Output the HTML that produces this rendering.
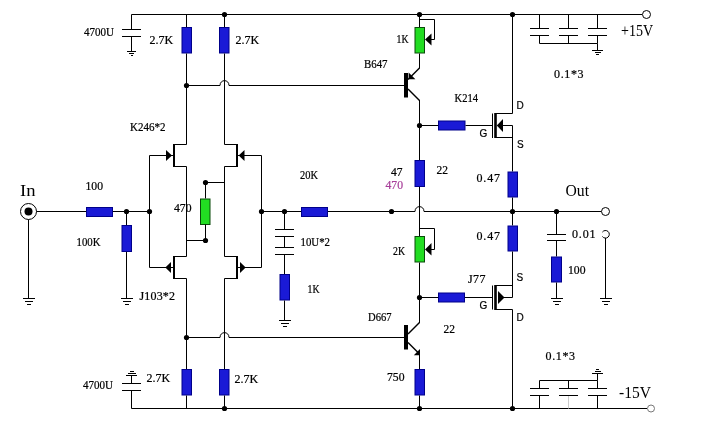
<!DOCTYPE html>
<html><head><meta charset="utf-8"><title>Schematic</title>
<style>
html,body{margin:0;padding:0;background:#fff;}
svg{display:block;will-change:transform}
.s{font-family:"Liberation Serif",serif;stroke-width:0.22px;}
.a{font-family:"Liberation Sans",sans-serif;stroke-width:0.2px;}
</style></head><body>
<svg width="705" height="439" viewBox="0 0 705 439">
<rect width="705" height="439" fill="#fff"/>
<path d="M131.5 14.5 L642 14.5" stroke="#000" stroke-width="1" fill="none"/>
<path d="M131.5 408.5 L647 408.5" stroke="#000" stroke-width="1" fill="none"/>
<path d="M131.5 14.5 L131.5 29.5" stroke="#000" stroke-width="1" fill="none"/>
<path d="M122 29.5 L141 29.5" stroke="#000" stroke-width="1" fill="none"/>
<path d="M122 36.5 L141 36.5" stroke="#000" stroke-width="1" fill="none"/>
<path d="M131.5 36.5 L131.5 51.5" stroke="#000" stroke-width="1" fill="none"/>
<path d="M127 51.5 L136 51.5" stroke="#000" stroke-width="1" fill="none"/>
<path d="M129 53.5 L134 53.5" stroke="#000" stroke-width="1" fill="none"/>
<path d="M131 55.5 L133 55.5" stroke="#000" stroke-width="1" fill="none"/>
<path d="M131.5 408.5 L131.5 390.5" stroke="#000" stroke-width="1" fill="none"/>
<path d="M122 390.5 L141 390.5" stroke="#000" stroke-width="1" fill="none"/>
<path d="M122 383.5 L141 383.5" stroke="#000" stroke-width="1" fill="none"/>
<path d="M131.5 383.5 L131.5 375.5" stroke="#000" stroke-width="1" fill="none"/>
<path d="M126 375.5 L137 375.5" stroke="#000" stroke-width="1" fill="none"/>
<path d="M128 373.5 L136 373.5" stroke="#000" stroke-width="1" fill="none"/>
<path d="M130 371.5 L134 371.5" stroke="#000" stroke-width="1" fill="none"/>
<path d="M186.5 14.5 L186.5 27" stroke="#000" stroke-width="1" fill="none"/>
<rect x="182" y="27.5" width="9.5" height="25.5" fill="#1a1ad6" stroke="#00008a" stroke-width="1"/>
<path d="M186.5 53.5 L186.5 144.5" stroke="#000" stroke-width="1" fill="none"/>
<path d="M224.5 14.5 L224.5 27" stroke="#000" stroke-width="1" fill="none"/>
<rect x="219.5" y="27.5" width="9.5" height="25.5" fill="#1a1ad6" stroke="#00008a" stroke-width="1"/>
<path d="M224.5 53.5 L224.5 144.5" stroke="#000" stroke-width="1" fill="none"/>
<circle cx="224.5" cy="14.5" r="2.6" fill="#000"/>
<circle cx="186.5" cy="85.5" r="2.6" fill="#000"/>
<path d="M186.5 85.5 L220 85.5 C220 79 229 79 229 85.5 L404 85.5" stroke="#000" stroke-width="1" fill="none"/>
<path d="M186.5 278.5 L186.5 369" stroke="#000" stroke-width="1" fill="none"/>
<rect x="182" y="369.5" width="9.5" height="25.5" fill="#1a1ad6" stroke="#00008a" stroke-width="1"/>
<path d="M186.5 395.5 L186.5 408.5" stroke="#000" stroke-width="1" fill="none"/>
<path d="M224.5 278.5 L224.5 369" stroke="#000" stroke-width="1" fill="none"/>
<rect x="219.5" y="369.5" width="9.5" height="25.5" fill="#1a1ad6" stroke="#00008a" stroke-width="1"/>
<path d="M224.5 395.5 L224.5 408.5" stroke="#000" stroke-width="1" fill="none"/>
<circle cx="224.5" cy="408.5" r="2.6" fill="#000"/>
<circle cx="186.5" cy="337.5" r="2.6" fill="#000"/>
<path d="M186.5 337.5 L220 337.5 C220 331 229 331 229 337.5 L404 337.5" stroke="#000" stroke-width="1" fill="none"/>
<path d="M186.5 144.5 L174 144.5" stroke="#000" stroke-width="1" fill="none"/>
<path d="M174 144 L174 167" stroke="#000" stroke-width="2" fill="none"/>
<path d="M174 166.5 L186.5 166.5" stroke="#000" stroke-width="1" fill="none"/>
<path d="M186.5 166.5 L186.5 256.5" stroke="#000" stroke-width="1" fill="none"/>
<polygon points="166,150 166,161 172,155.5" fill="#000"/>
<path d="M149.5 155.5 L173.5 155.5" stroke="#000" stroke-width="1" fill="none"/>
<path d="M186.5 256.5 L174 256.5" stroke="#000" stroke-width="1" fill="none"/>
<path d="M174 256 L174 279" stroke="#000" stroke-width="2" fill="none"/>
<path d="M174 278.5 L186.5 278.5" stroke="#000" stroke-width="1" fill="none"/>
<polygon points="171,262 171,273 165.3,267.5" fill="#000"/>
<path d="M149.5 267.5 L173.5 267.5" stroke="#000" stroke-width="1" fill="none"/>
<path d="M149.5 155.5 L149.5 267.5" stroke="#000" stroke-width="1" fill="none"/>
<path d="M224.5 144.5 L237 144.5" stroke="#000" stroke-width="1" fill="none"/>
<path d="M237 144 L237 167" stroke="#000" stroke-width="2" fill="none"/>
<path d="M237 166.5 L224.5 166.5" stroke="#000" stroke-width="1" fill="none"/>
<path d="M224.5 166.5 L224.5 256.5" stroke="#000" stroke-width="1" fill="none"/>
<polygon points="244.5,150 244.5,161 238.7,155.5" fill="#000"/>
<path d="M237.5 155.5 L261.5 155.5" stroke="#000" stroke-width="1" fill="none"/>
<path d="M224.5 256.5 L237 256.5" stroke="#000" stroke-width="1" fill="none"/>
<path d="M237 256 L237 279" stroke="#000" stroke-width="2" fill="none"/>
<path d="M237 278.5 L224.5 278.5" stroke="#000" stroke-width="1" fill="none"/>
<polygon points="240,262 240,273 245.7,267.5" fill="#000"/>
<path d="M237.5 267.5 L261.5 267.5" stroke="#000" stroke-width="1" fill="none"/>
<path d="M261.5 155.5 L261.5 267.5" stroke="#000" stroke-width="1" fill="none"/>
<path d="M224.5 182.5 L205.5 182.5" stroke="#000" stroke-width="1" fill="none"/>
<circle cx="205.5" cy="182.5" r="2.6" fill="#000"/>
<path d="M205.5 182.5 L205.5 198.5" stroke="#000" stroke-width="1" fill="none"/>
<rect x="200.5" y="199" width="9.5" height="25.5" fill="#22dd22" stroke="#0a4a0a" stroke-width="1"/>
<path d="M205.5 224.5 L205.5 240.5" stroke="#000" stroke-width="1" fill="none"/>
<circle cx="205.5" cy="240.5" r="2.6" fill="#000"/>
<path d="M205.5 240.5 L186.5 240.5" stroke="#000" stroke-width="1" fill="none"/>
<circle cx="28.5" cy="211.5" r="8" fill="#fff" stroke="#000" stroke-width="1"/>
<circle cx="28.5" cy="211.5" r="4" fill="#000"/>
<path d="M36.5 211.5 L86 211.5" stroke="#000" stroke-width="1" fill="none"/>
<rect x="86.5" y="207.5" width="26" height="9" fill="#1a1ad6" stroke="#00008a" stroke-width="1"/>
<path d="M113 211.5 L149.5 211.5" stroke="#000" stroke-width="1" fill="none"/>
<circle cx="126.5" cy="211.5" r="2.6" fill="#000"/>
<circle cx="149.5" cy="211.5" r="2.6" fill="#000"/>
<path d="M28.5 219.5 L28.5 298.5" stroke="#000" stroke-width="1" fill="none"/>
<path d="M23 298.5 L35 298.5" stroke="#000" stroke-width="1" fill="none"/>
<path d="M25 301.5 L33 301.5" stroke="#000" stroke-width="1" fill="none"/>
<path d="M27 304.5 L31 304.5" stroke="#000" stroke-width="1" fill="none"/>
<path d="M126.5 211.5 L126.5 225" stroke="#000" stroke-width="1" fill="none"/>
<rect x="122" y="225.5" width="9.5" height="26" fill="#1a1ad6" stroke="#00008a" stroke-width="1"/>
<path d="M126.5 252 L126.5 298.5" stroke="#000" stroke-width="1" fill="none"/>
<path d="M121 298.5 L133 298.5" stroke="#000" stroke-width="1" fill="none"/>
<path d="M123 301.5 L131 301.5" stroke="#000" stroke-width="1" fill="none"/>
<path d="M125 304.5 L129 304.5" stroke="#000" stroke-width="1" fill="none"/>
<circle cx="261.5" cy="211.5" r="2.6" fill="#000"/>
<circle cx="284.5" cy="211.5" r="2.6" fill="#000"/>
<path d="M261.5 211.5 L301 211.5" stroke="#000" stroke-width="1" fill="none"/>
<rect x="301.5" y="207.5" width="26" height="9" fill="#1a1ad6" stroke="#00008a" stroke-width="1"/>
<path d="M328 211.5 L415 211.5 C415 205 424 205 424 211.5 L601.5 211.5" stroke="#000" stroke-width="1" fill="none"/>
<circle cx="391.5" cy="211.5" r="2.6" fill="#000"/>
<circle cx="512.5" cy="211.5" r="2.6" fill="#000"/>
<circle cx="556.5" cy="211.5" r="2.6" fill="#000"/>
<circle cx="605.5" cy="211.5" r="4" fill="#fff" stroke="#000" stroke-width="1"/>
<path d="M284.5 211.5 L284.5 229.5" stroke="#000" stroke-width="1" fill="none"/>
<path d="M275 229.5 L294 229.5" stroke="#000" stroke-width="1" fill="none"/>
<path d="M275 236.5 L294 236.5" stroke="#000" stroke-width="1" fill="none"/>
<path d="M284.5 236.5 L284.5 247.5" stroke="#000" stroke-width="1" fill="none"/>
<path d="M275 247.5 L294 247.5" stroke="#000" stroke-width="1" fill="none"/>
<path d="M275 254.5 L294 254.5" stroke="#000" stroke-width="1" fill="none"/>
<path d="M284.5 254.5 L284.5 274" stroke="#000" stroke-width="1" fill="none"/>
<rect x="280" y="274.5" width="9.5" height="25.5" fill="#1a1ad6" stroke="#00008a" stroke-width="1"/>
<path d="M284.5 300.5 L284.5 320.5" stroke="#000" stroke-width="1" fill="none"/>
<path d="M279 320.5 L291 320.5" stroke="#000" stroke-width="1" fill="none"/>
<path d="M281 323.5 L289 323.5" stroke="#000" stroke-width="1" fill="none"/>
<path d="M283 326.5 L287 326.5" stroke="#000" stroke-width="1" fill="none"/>
<circle cx="419.5" cy="14.5" r="2.6" fill="#000"/>
<path d="M419.5 14.5 L419.5 27" stroke="#000" stroke-width="1" fill="none"/>
<rect x="415" y="27.5" width="9.5" height="25.5" fill="#22dd22" stroke="#0a4a0a" stroke-width="1"/>
<path d="M419.5 19.5 L434.5 19.5 L434.5 39.5 L431 39.5" stroke="#000" stroke-width="1" fill="none"/>
<polygon points="431.5,33.5 431.5,45.5 425,39.5" fill="#000"/>
<path d="M419.5 53.5 L419.5 68.5" stroke="#000" stroke-width="1" fill="none"/>
<path d="M419.5 68 L408 79.5" stroke="#000" stroke-width="1.4" fill="none"/>
<polygon points="408.6,72.5 408.6,79.3 415.4,79.3" fill="#000"/>
<rect x="404" y="73" width="4" height="24.5" fill="#000"/>
<path d="M408 89 L419.5 100.5" stroke="#000" stroke-width="1.4" fill="none"/>
<path d="M419.5 100 L419.5 160" stroke="#000" stroke-width="1" fill="none"/>
<circle cx="419.5" cy="125.5" r="2.6" fill="#000"/>
<path d="M419.5 125.5 L438 125.5" stroke="#000" stroke-width="1" fill="none"/>
<rect x="438.5" y="121" width="26.5" height="9" fill="#1a1ad6" stroke="#00008a" stroke-width="1"/>
<path d="M465.5 125.5 L492.5 125.5" stroke="#000" stroke-width="1" fill="none"/>
<path d="M492.5 113.5 L492.5 138" stroke="#000" stroke-width="1" fill="none"/>
<rect x="494.2" y="113" width="2.6" height="25" fill="#000"/>
<path d="M496 113.5 L512.5 113.5 L512.5 14.5" stroke="#000" stroke-width="1" fill="none"/>
<circle cx="512.5" cy="14.5" r="2.6" fill="#000"/>
<path d="M496 137.5 L512.5 137.5" stroke="#000" stroke-width="1" fill="none"/>
<polygon points="503,119 503,132 496.8,125.5" fill="#000"/>
<path d="M503 125.5 L512.5 125.5 L512.5 171.5" stroke="#000" stroke-width="1" fill="none"/>
<rect x="508" y="172" width="9.5" height="25" fill="#1a1ad6" stroke="#00008a" stroke-width="1"/>
<path d="M512.5 197.5 L512.5 225.5" stroke="#000" stroke-width="1" fill="none"/>
<rect x="508" y="226" width="9.5" height="25" fill="#1a1ad6" stroke="#00008a" stroke-width="1"/>
<path d="M512.5 251.5 L512.5 297.5 L504 297.5" stroke="#000" stroke-width="1" fill="none"/>
<rect x="415" y="160.5" width="9.5" height="26" fill="#1a1ad6" stroke="#00008a" stroke-width="1"/>
<path d="M419.5 187 L419.5 236" stroke="#000" stroke-width="1" fill="none"/>
<rect x="415" y="236.5" width="9.5" height="25.5" fill="#22dd22" stroke="#0a4a0a" stroke-width="1"/>
<path d="M419.5 228.5 L434.5 228.5 L434.5 249.5 L431 249.5" stroke="#000" stroke-width="1" fill="none"/>
<polygon points="431.5,243 431.5,255.5 425,249.5" fill="#000"/>
<path d="M419.5 262.5 L419.5 323" stroke="#000" stroke-width="1" fill="none"/>
<path d="M419.5 322.5 L408 334" stroke="#000" stroke-width="1.4" fill="none"/>
<circle cx="419.5" cy="297.5" r="2.6" fill="#000"/>
<path d="M419.5 297.5 L438 297.5" stroke="#000" stroke-width="1" fill="none"/>
<rect x="438.5" y="293" width="26" height="9" fill="#1a1ad6" stroke="#00008a" stroke-width="1"/>
<path d="M465 297.5 L492.5 297.5" stroke="#000" stroke-width="1" fill="none"/>
<path d="M492.5 285.5 L492.5 309.5" stroke="#000" stroke-width="1" fill="none"/>
<rect x="494.2" y="285" width="2.6" height="25" fill="#000"/>
<path d="M496 285.5 L512.5 285.5" stroke="#000" stroke-width="1" fill="none"/>
<polygon points="498,291 498,304 504.5,297.5" fill="#000"/>
<path d="M496 309.5 L512.5 309.5 L512.5 408.5" stroke="#000" stroke-width="1" fill="none"/>
<circle cx="512.5" cy="408.5" r="2.6" fill="#000"/>
<rect x="404" y="325" width="4" height="24.5" fill="#000"/>
<path d="M408 342.5 L419.5 354" stroke="#000" stroke-width="1.4" fill="none"/>
<path d="M419.5 354 L419.5 369" stroke="#000" stroke-width="1" fill="none"/>
<polygon points="420,349 420,355.2 413.8,355.2" fill="#000"/>
<rect x="415" y="369.5" width="9.5" height="25.5" fill="#1a1ad6" stroke="#00008a" stroke-width="1"/>
<path d="M419.5 395.5 L419.5 408.5" stroke="#000" stroke-width="1" fill="none"/>
<circle cx="419.5" cy="408.5" r="2.6" fill="#000"/>
<path d="M539.5 14.5 L539.5 28.5" stroke="#000" stroke-width="1" fill="none"/>
<path d="M530 28.5 L549 28.5" stroke="#000" stroke-width="1" fill="none"/>
<path d="M530 35.5 L549 35.5" stroke="#000" stroke-width="1" fill="none"/>
<path d="M539.5 35.5 L539.5 43.5" stroke="#000" stroke-width="1" fill="none"/>
<path d="M568.5 14.5 L568.5 28.5" stroke="#000" stroke-width="1" fill="none"/>
<path d="M559 28.5 L578 28.5" stroke="#000" stroke-width="1" fill="none"/>
<path d="M559 35.5 L578 35.5" stroke="#000" stroke-width="1" fill="none"/>
<path d="M568.5 35.5 L568.5 43.5" stroke="#000" stroke-width="1" fill="none"/>
<path d="M597.5 14.5 L597.5 28.5" stroke="#000" stroke-width="1" fill="none"/>
<path d="M588 28.5 L607 28.5" stroke="#000" stroke-width="1" fill="none"/>
<path d="M588 35.5 L607 35.5" stroke="#000" stroke-width="1" fill="none"/>
<path d="M597.5 35.5 L597.5 43.5" stroke="#000" stroke-width="1" fill="none"/>
<path d="M539.5 43.5 L597.5 43.5" stroke="#000" stroke-width="1" fill="none"/>
<path d="M597.5 43.5 L597.5 50.5" stroke="#000" stroke-width="1" fill="none"/>
<path d="M592 50.5 L603 50.5" stroke="#000" stroke-width="1" fill="none"/>
<path d="M595 52.5 L601 52.5" stroke="#000" stroke-width="1" fill="none"/>
<path d="M596 54.5 L599 54.5" stroke="#000" stroke-width="1" fill="none"/>
<circle cx="646.5" cy="14.5" r="4" fill="#fff" stroke="#000" stroke-width="1"/>
<path d="M539.5 408.5 L539.5 395.5" stroke="#000" stroke-width="1" fill="none"/>
<path d="M530 395.5 L549 395.5" stroke="#000" stroke-width="1" fill="none"/>
<path d="M530 388.5 L549 388.5" stroke="#000" stroke-width="1" fill="none"/>
<path d="M539.5 388.5 L539.5 380.5" stroke="#000" stroke-width="1" fill="none"/>
<path d="M568.5 408.5 L568.5 395.5" stroke="#ccc" stroke-width="1" fill="none"/>
<path d="M559 395.5 L578 395.5" stroke="#000" stroke-width="1" fill="none"/>
<path d="M559 388.5 L578 388.5" stroke="#000" stroke-width="1" fill="none"/>
<path d="M568.5 388.5 L568.5 380.5" stroke="#000" stroke-width="1" fill="none"/>
<path d="M597.5 408.5 L597.5 395.5" stroke="#000" stroke-width="1" fill="none"/>
<path d="M588 395.5 L607 395.5" stroke="#000" stroke-width="1" fill="none"/>
<path d="M588 388.5 L607 388.5" stroke="#000" stroke-width="1" fill="none"/>
<path d="M597.5 388.5 L597.5 380.5" stroke="#000" stroke-width="1" fill="none"/>
<path d="M539.5 380.5 L597.5 380.5" stroke="#000" stroke-width="1" fill="none"/>
<path d="M597.5 380.5 L597.5 373.5" stroke="#000" stroke-width="1" fill="none"/>
<path d="M592 373.5 L603 373.5" stroke="#000" stroke-width="1" fill="none"/>
<path d="M595 371.5 L601 371.5" stroke="#000" stroke-width="1" fill="none"/>
<path d="M596 369.5 L599 369.5" stroke="#000" stroke-width="1" fill="none"/>
<circle cx="651" cy="408.5" r="3.5" fill="#fff" stroke="#777" stroke-width="1"/>
<path d="M556.5 211.5 L556.5 234.5" stroke="#000" stroke-width="1" fill="none"/>
<path d="M547 234.5 L566 234.5" stroke="#000" stroke-width="1" fill="none"/>
<path d="M547 240.5 L566 240.5" stroke="#000" stroke-width="1" fill="none"/>
<path d="M556.5 240.5 L556.5 256.5" stroke="#000" stroke-width="1" fill="none"/>
<rect x="551.5" y="257" width="10" height="25" fill="#1a1ad6" stroke="#00008a" stroke-width="1"/>
<path d="M556.5 282.5 L556.5 298.5" stroke="#000" stroke-width="1" fill="none"/>
<path d="M551 298.5 L563 298.5" stroke="#000" stroke-width="1" fill="none"/>
<path d="M553 301.5 L561 301.5" stroke="#000" stroke-width="1" fill="none"/>
<path d="M555 304.5 L559 304.5" stroke="#000" stroke-width="1" fill="none"/>
<path d="M602.39 232.12 A3.8 3.8 0 1 1 602.39 236.48" stroke="#000" stroke-width="1" fill="none"/>
<path d="M605.5 238 L605.5 298.5" stroke="#000" stroke-width="1" fill="none"/>
<path d="M600 298.5 L612 298.5" stroke="#000" stroke-width="1" fill="none"/>
<path d="M602 301.5 L610 301.5" stroke="#000" stroke-width="1" fill="none"/>
<path d="M604 304.5 L608 304.5" stroke="#000" stroke-width="1" fill="none"/>
<text class="s" x="84" y="35.5" font-size="12" fill="#000" stroke="#000" textLength="30" lengthAdjust="spacingAndGlyphs">4700U</text>
<text class="s" x="149.5" y="44" font-size="12" fill="#000" stroke="#000">2.7K</text>
<text class="s" x="235.5" y="44" font-size="12" fill="#000" stroke="#000">2.7K</text>
<text class="s" x="130" y="131" font-size="12" fill="#000" stroke="#000" textLength="35.5" lengthAdjust="spacingAndGlyphs">K246*2</text>
<text class="s" x="20" y="195.5" font-size="16" fill="#000" textLength="15.5" lengthAdjust="spacingAndGlyphs">In</text>
<text class="s" x="85.5" y="189.5" font-size="12" fill="#000" stroke="#000" textLength="17.5" lengthAdjust="spacingAndGlyphs">100</text>
<text class="s" x="76.5" y="245.5" font-size="12" fill="#000" stroke="#000" textLength="24" lengthAdjust="spacingAndGlyphs">100K</text>
<text class="s" x="174" y="212" font-size="12" fill="#000" stroke="#000" textLength="17.5" lengthAdjust="spacingAndGlyphs">470</text>
<text class="s" x="139.5" y="299.5" font-size="12" fill="#000" stroke="#000" textLength="35.5" lengthAdjust="spacing">J103*2</text>
<text class="s" x="83" y="388.5" font-size="12" fill="#000" stroke="#000" textLength="30" lengthAdjust="spacingAndGlyphs">4700U</text>
<text class="s" x="146.5" y="382" font-size="12" fill="#000" stroke="#000">2.7K</text>
<text class="s" x="234.5" y="383" font-size="12" fill="#000" stroke="#000">2.7K</text>
<text class="s" x="300" y="179" font-size="12" fill="#000" stroke="#000" textLength="18" lengthAdjust="spacingAndGlyphs">20K</text>
<text class="s" x="300.5" y="245.5" font-size="12" fill="#000" stroke="#000" textLength="29.5" lengthAdjust="spacingAndGlyphs">10U*2</text>
<text class="s" x="307.5" y="293" font-size="12" fill="#000" stroke="#000" textLength="12" lengthAdjust="spacingAndGlyphs">1K</text>
<text class="s" x="396.5" y="43" font-size="12" fill="#000" stroke="#000" textLength="12" lengthAdjust="spacingAndGlyphs">1K</text>
<text class="s" x="364" y="68" font-size="12" fill="#000" stroke="#000" textLength="23.5" lengthAdjust="spacingAndGlyphs">B647</text>
<text class="s" x="454.5" y="102" font-size="12" fill="#000" stroke="#000" textLength="23.5" lengthAdjust="spacingAndGlyphs">K214</text>
<text class="s" x="391" y="175.5" font-size="12" fill="#000" stroke="#000" textLength="11.5" lengthAdjust="spacingAndGlyphs">47</text>
<text class="s" x="385.5" y="189" font-size="12" fill="#a8409a" stroke="#a8409a" textLength="17.5" lengthAdjust="spacingAndGlyphs">470</text>
<text class="s" x="436.5" y="174" font-size="12" fill="#000" stroke="#000" textLength="11.5" lengthAdjust="spacingAndGlyphs">22</text>
<text class="s" x="476.5" y="182" font-size="12" fill="#000" stroke="#000" textLength="23.5" lengthAdjust="spacing">0.47</text>
<text class="s" x="476.5" y="239.5" font-size="12" fill="#000" stroke="#000" textLength="23.5" lengthAdjust="spacing">0.47</text>
<text class="s" x="393" y="255" font-size="12" fill="#000" stroke="#000" textLength="12" lengthAdjust="spacingAndGlyphs">2K</text>
<text class="s" x="468" y="282.5" font-size="12" fill="#000" stroke="#000" textLength="17.5" lengthAdjust="spacing">J77</text>
<text class="s" x="368" y="320.5" font-size="12" fill="#000" stroke="#000" textLength="23.5" lengthAdjust="spacingAndGlyphs">D667</text>
<text class="s" x="443.5" y="333" font-size="12" fill="#000" stroke="#000" textLength="11.5" lengthAdjust="spacingAndGlyphs">22</text>
<text class="s" x="387" y="381" font-size="12" fill="#000" stroke="#000" textLength="17.5" lengthAdjust="spacingAndGlyphs">750</text>
<text class="s" x="565.5" y="196" font-size="16" fill="#000" textLength="23.5" lengthAdjust="spacingAndGlyphs">Out</text>
<text class="s" x="572" y="238" font-size="12" fill="#000" stroke="#000" textLength="23.5" lengthAdjust="spacing">0.01</text>
<text class="s" x="568" y="274" font-size="12" fill="#000" stroke="#000" textLength="17.5" lengthAdjust="spacingAndGlyphs">100</text>
<text class="s" x="554" y="78" font-size="12" fill="#000" stroke="#000" textLength="29.5" lengthAdjust="spacing">0.1*3</text>
<text class="s" x="545.5" y="359.5" font-size="12" fill="#000" stroke="#000" textLength="29.5" lengthAdjust="spacing">0.1*3</text>
<text class="s" x="621" y="36" font-size="16" fill="#000" textLength="32" lengthAdjust="spacingAndGlyphs">+15V</text>
<text class="s" x="619" y="397.5" font-size="16" fill="#000" textLength="32" lengthAdjust="spacingAndGlyphs">-15V</text>
<text class="a" x="516.5" y="108.8" font-size="10" fill="#000" stroke="#000">D</text>
<text class="a" x="479.5" y="137" font-size="10" fill="#000" stroke="#000">G</text>
<text class="a" x="517" y="148.2" font-size="10" fill="#000" stroke="#000">S</text>
<text class="a" x="516.5" y="280.6" font-size="10" fill="#000" stroke="#000">S</text>
<text class="a" x="479.5" y="308.8" font-size="10" fill="#000" stroke="#000">G</text>
<text class="a" x="516.5" y="321" font-size="10" fill="#000" stroke="#000">D</text>
</svg>
</body></html>
